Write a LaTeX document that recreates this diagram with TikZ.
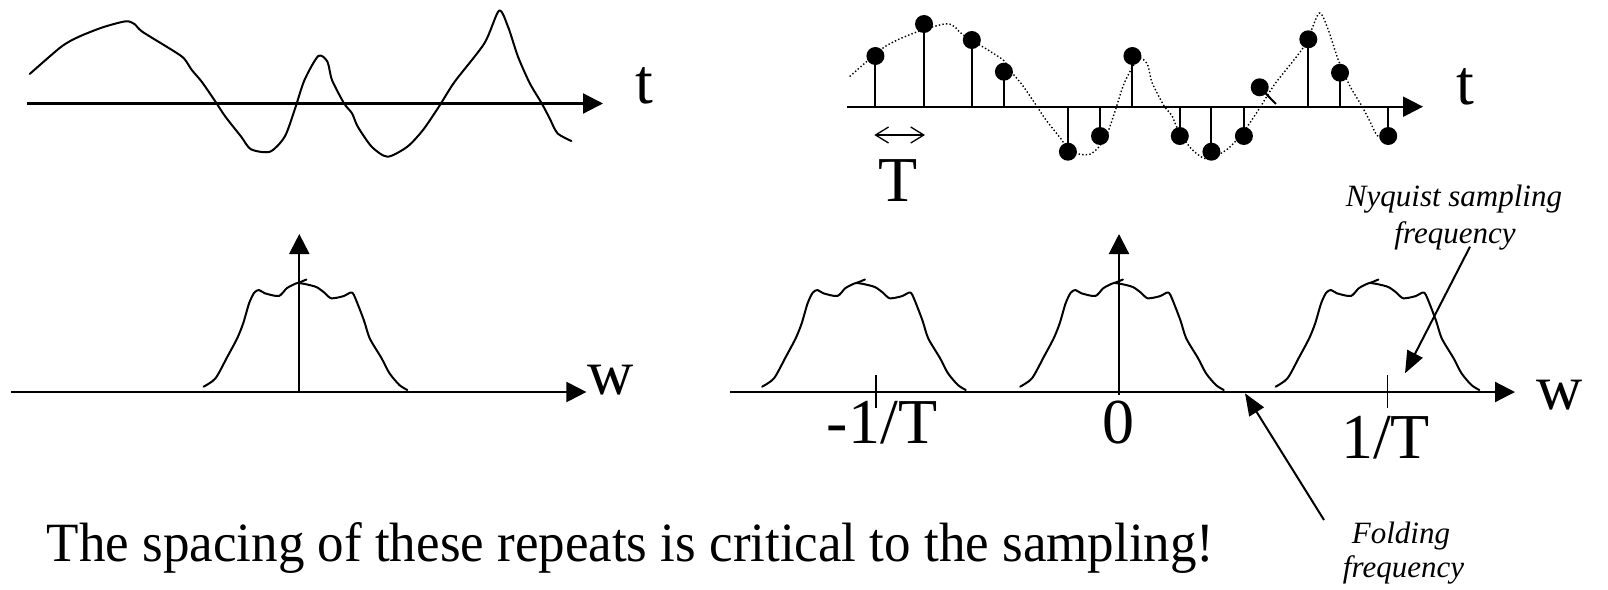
\documentclass[tikz,border=0pt]{standalone}
\usepackage{fontspec}
\setmainfont{Liberation Serif}
\usetikzlibrary{arrows.meta}
\newcommand\mywave[2]{\draw[#1,shift={(#2)}] plot[smooth,tension=.45] coordinates {
(29.7,74) (61.3,46.7) (79,36.7) (102.8,27.3) (125.7,21.3) (134.4,24) (142.3,31.7) (172,50) (183.9,58.3) (191.8,70) (201.7,81.7) (215.5,101.7) (225.4,116.7) (241.2,136.7) (251,149.3) (270,151.7) (284.7,136.7) (294.6,110) (304.5,80) (318.3,56) (327.4,61.7) (332,80) (344,103.3) (352,113.3) (357.8,126.7) (371.7,146.7) (387.5,156.7) (407.3,146.7) (423,130) (438.9,106.7) (454.7,81.7) (484.4,43.3) (499,10.7) (508,26.7) (518,56.7) (529.8,83.3) (541.7,103.3) (549.6,118.3) (557.5,133.3) (571.4,141)};}
\newcommand\mybump[1]{%
\draw[curve,shift={(#1,0)}] plot[smooth,tension=.45] coordinates {(203.6,386.7) (215.5,378.3) (227.4,356.7) (237.2,338.3) (243.2,323.3) (249.1,303.3) (254.2,292.7) (259,290) (264.9,293.3) (278.8,296) (286.7,288.3) (294.6,284) (300.5,282) (306.4,279.5)};
\draw[curve,shift={(#1,0)}] plot[smooth,tension=.45] coordinates {(298.5,283) (305,284) (316.3,287) (324.2,292.5) (331.3,298.3) (344,296) (350,292.7) (353.9,295) (363.8,320) (369.7,338.3) (381.6,358.3) (389.5,373.3) (399.4,385) (407.3,390)};}
\begin{document}
\begin{tikzpicture}[x=1pt,y=-1pt,
  axis/.style={line width=2.2pt,-{Triangle[length=20pt,width=20pt]}},
  curve/.style={line width=2pt,line join=round,line cap=round},
  dotcurve/.style={line width=1.4pt,dash pattern=on 1.4pt off 2.2pt},
  stem/.style={line width=2pt},
  callout/.style={line width=2pt,-{Triangle[length=22pt,width=17pt]}},
  big/.style={font=\fontsize{64}{70}\selectfont,inner sep=0pt},
  small/.style={font=\fontsize{31}{37}\selectfont\itshape,inner sep=0pt},
  bigtext/.style={font=\fontsize{55.4}{60}\selectfont,inner sep=0pt}]
\useasboundingbox (0,0) rectangle (1608,589);

% ---------- top left: continuous signal
\coordinate (a1s) at (27,103.5);
\coordinate (a1e) at (603,103.5);
\draw[axis] (a1s) -- (a1e);
\mywave{curve}{0,0}
\node[big,anchor=base] (t1) at (644.7,103.3) {t};

% ---------- top right: sampled signal
\coordinate (a2s) at (847,106.7);
\coordinate (a2e) at (1423,106.7);
\draw[axis] (a2s) -- (a2e);
\mywave{dotcurve}{820,2.5}
\foreach \x/\y in {875.4/56,924/24,971.8/40,1003.9/71.7,1067.9/151.7,1100/136,1132.4/56,1179.8/136,1211.4/151.7,1243.9/136,1308.3/39.3,1340/72.7,1388.2/136}{
  \draw[stem] (\x,106.7) -- (\x,\y);
  \fill (\x,\y) circle (9pt);
}
\coordinate (tiltdot) at (1259.7,87.3);
\coordinate (tiltend) at (1275.9,104);
\draw[stem] (tiltdot) -- (tiltend);
\fill (tiltdot) circle (9pt);
\node[big,anchor=base] (t2) at (1465,104) {t};
\coordinate (Ta) at (874.3,135);
\coordinate (Tb) at (925,135);
\draw[line width=1.3pt,{Straight Barb[length=13pt,width=16pt]}-{Straight Barb[length=13pt,width=16pt]}] (Ta) -- (Tb);
\node[big,anchor=base] (T) at (898,201.7) {T};

% ---------- bottom left: spectrum
\coordinate (b1s) at (11,392);
\coordinate (b1e) at (586.4,392);
\coordinate (v1s) at (299.3,392);
\coordinate (v1e) at (299.3,234);
\draw[axis] (b1s) -- (b1e);
\draw[axis] (v1s) -- (v1e);
\mybump{0}
\node[big,anchor=base] (w1) at (611,394) {w};

% ---------- bottom right: repeated spectrum
\coordinate (b2s) at (730,392);
\coordinate (b2e) at (1515,392);
\coordinate (v2s) at (1119,395);
\coordinate (v2e) at (1119,234);
\draw[axis] (b2s) -- (b2e);
\draw[axis] (v2s) -- (v2e);
\mybump{558.5}
\mybump{816.5}
\mybump{1072}
\coordinate (k1a) at (876,375);
\coordinate (k1b) at (876,408);
\coordinate (k2a) at (1387.5,375);
\coordinate (k2b) at (1387.5,408);
\draw[line width=1.5pt] (k1a) -- (k1b);
\draw[line width=1.5pt] (k2a) -- (k2b);
\node[big,anchor=base] (m1T) at (882,443.3) {-1/T};
\node[big,anchor=base] (zero) at (1118.5,443) {0};
\node[big,anchor=base] (p1T) at (1385.5,458) {1/T};
\node[big,anchor=base] (w2) at (1560,409) {w};

% ---------- callouts
\node[small,anchor=base] (nyq1) at (1454,206.7) {Nyquist sampling};
\node[small,anchor=base] (nyq2) at (1455,243) {frequency};
\coordinate (nyqtail) at (1470,246.7);
\coordinate (nyqtip) at (1405,373.3);
\draw[callout] (nyqtail) -- (nyqtip);

\node[small,anchor=base] (fold1) at (1401,543.3) {Folding};
\node[small,anchor=base] (fold2) at (1403.5,577) {frequency};
\coordinate (foldtail) at (1324,520);
\coordinate (foldtip) at (1245,393.3);
\draw[callout] (foldtail) -- (foldtip);

% ---------- caption
\node[bigtext,anchor=base west] (caption) at (46.7,561.7) {\scalebox{0.957}[1]{The spacing of these repeats is critical to the sampling!}};
\end{tikzpicture}
\end{document}
